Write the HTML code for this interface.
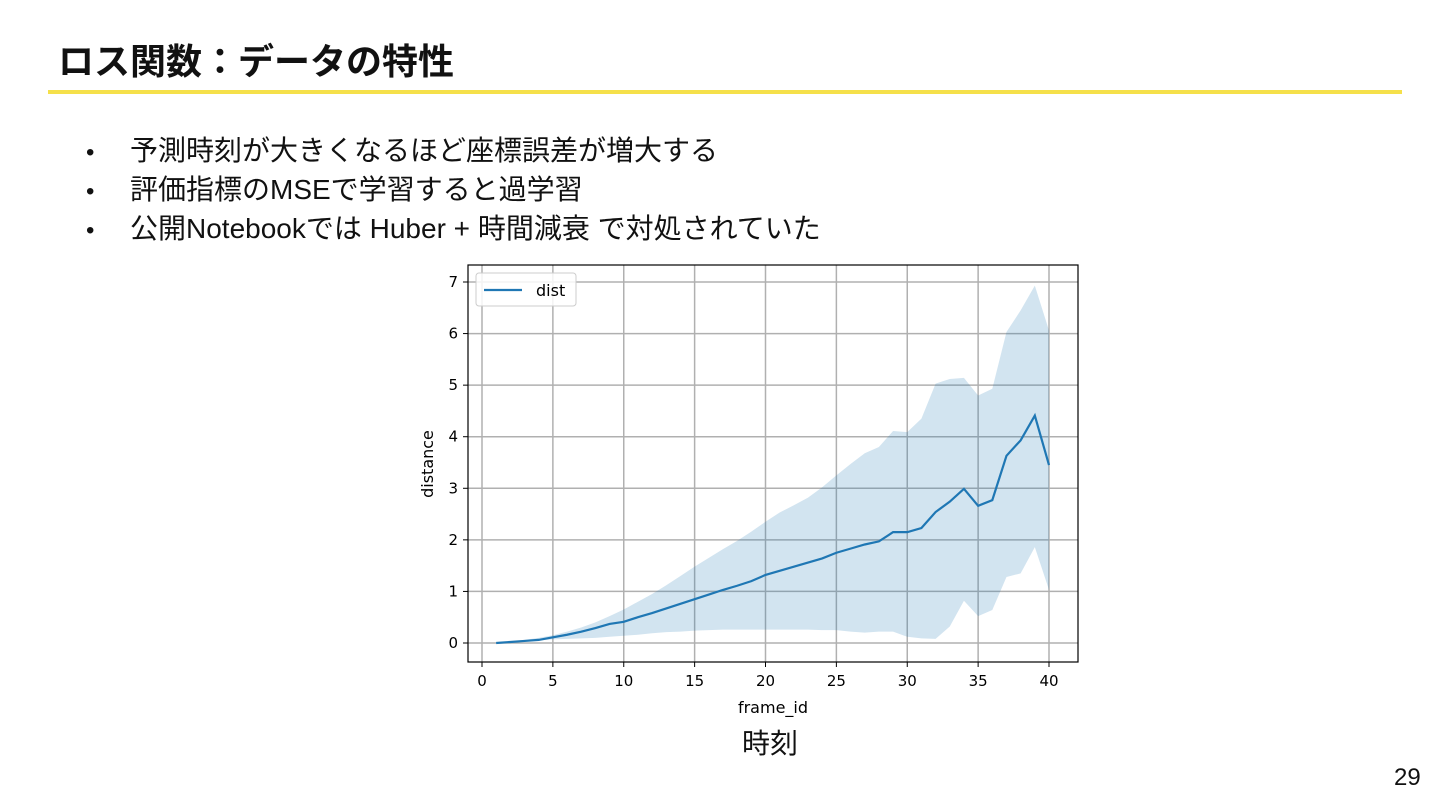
<!DOCTYPE html>
<html><head><meta charset="utf-8">
<style>
body{margin:0;width:1440px;height:810px;background:#fff;overflow:hidden;position:relative;font-family:"Liberation Sans","Noto Sans CJK JP",sans-serif;}
.title{position:absolute;left:58px;top:40px;font-size:36px;font-weight:bold;color:#111;line-height:44px;}
.rule{position:absolute;left:48px;top:90px;width:1354px;height:4px;background:#f5e04a;}
ul{position:absolute;left:86px;top:131px;margin:0;padding:0;list-style:none;font-size:28px;color:#111;}
li{height:39px;line-height:39px;}
li span.b{display:inline-block;width:44px;font-size:24px;}
.pg{position:absolute;left:1394px;top:764px;font-size:24px;color:#111;}
.cap{position:absolute;left:742px;top:722px;font-size:28px;color:#111;}
svg{position:absolute;left:0;top:0;}
</style></head><body>
<div class="title">ロス関数：データの特性</div>
<div class="rule"></div>
<ul>
<li><span class="b">•</span>予測時刻が大きくなるほど座標誤差が増大する</li>
<li><span class="b">•</span>評価指標のMSEで学習すると過学習</li>
<li><span class="b">•</span>公開Notebookでは Huber + 時間減衰 で対処されていた</li>
</ul>
<svg width="1440" height="810" id="chart"></svg>
<div class="cap">時刻</div>
<div class="pg">29</div>
<script>
const frames=[1,2,3,4,5,6,7,8,9,10,11,12,13,14,15,16,17,18,19,20,21,22,23,24,25,26,27,28,29,30,31,32,33,34,35,36,37,38,39,40];
const meanVals=[0,0.02,0.04,0.06,0.11,0.16,0.22,0.29,0.37,0.41,0.5,0.58,0.67,0.76,0.85,0.94,1.03,1.11,1.2,1.32,1.4,1.48,1.56,1.64,1.75,1.83,1.91,1.97,2.15,2.15,2.23,2.54,2.74,2.99,2.66,2.77,3.63,3.93,4.41,3.45];
const upperVals=[0,0.03,0.06,0.1,0.15,0.22,0.3,0.4,0.52,0.65,0.8,0.95,1.12,1.3,1.48,1.65,1.82,1.98,2.16,2.35,2.53,2.67,2.82,3.02,3.25,3.47,3.68,3.8,4.11,4.09,4.35,5.03,5.12,5.14,4.8,4.93,6.03,6.45,6.93,6.06];
const lowerVals=[0,0.01,0.03,0.05,0.07,0.08,0.09,0.1,0.12,0.14,0.16,0.19,0.21,0.22,0.24,0.25,0.26,0.26,0.26,0.26,0.26,0.26,0.26,0.25,0.25,0.22,0.2,0.22,0.22,0.12,0.09,0.08,0.32,0.82,0.52,0.64,1.28,1.35,1.86,1.03];
const xTicks=[0,5,10,15,20,25,30,35,40];
const yTicks=[0,1,2,3,4,5,6,7];
const L=468,R=1078,T=265,B=662;
const sx=v=>482+v*(1049-482)/40;
const sy=v=>643-v*(643-282)/7;
const svg=document.getElementById('chart');
const NS='http://www.w3.org/2000/svg';
function mk(tag,attrs){const e=document.createElementNS(NS,tag);for(const k in attrs)e.setAttribute(k,attrs[k]);svg.appendChild(e);return e;}
xTicks.forEach(t=>{
 const g=mk('line',{x1:sx(t),x2:sx(t),y1:T,y2:B,stroke:'#b0b0b0','stroke-width':1.5});
 
 
 mk('line',{x1:sx(t),x2:sx(t),y1:B,y2:B+5,stroke:'#000'});
 const tx=mk('text',{x:sx(t),y:B+24,'text-anchor':'middle','font-size':15,fill:'#000','font-family':'DejaVu Sans, sans-serif'});
 tx.textContent=t;
 
 
});
yTicks.forEach(t=>{
 const g=mk('line',{x1:L,x2:R,y1:sy(t),y2:sy(t),stroke:'#b0b0b0','stroke-width':1.5});
 
 
 mk('line',{x1:L-5,x2:L,y1:sy(t),y2:sy(t),stroke:'#000'});
 const tx=mk('text',{x:L-10,y:sy(t)+5,'text-anchor':'end','font-size':15,fill:'#000','font-family':'DejaVu Sans, sans-serif'});
 tx.textContent=t;
 
 
});
let d='';
frames.forEach((f,i)=>{d+=(i?'L':'M')+sx(f)+','+sy(upperVals[i]);});
for(let i=frames.length-1;i>=0;i--)d+='L'+sx(frames[i])+','+sy(lowerVals[i]);
const band=mk('path',{d:d+'Z',fill:'#1f77b4','fill-opacity':0.2,stroke:'none'});


const pts=frames.map((f,i)=>sx(f)+','+sy(meanVals[i])).join(' ');
const line=mk('polyline',{points:pts,fill:'none',stroke:'#1f77b4','stroke-width':2.2});


const fr=mk('rect',{x:L,y:T,width:R-L,height:B-T,fill:'none',stroke:'#000','stroke-width':1.2});


const lg=mk('rect',{x:476,y:273,width:100,height:33,rx:3,fill:'#fff','fill-opacity':0.85,stroke:'#ccc'});


mk('line',{x1:484,x2:522,y1:290,y2:290,stroke:'#1f77b4','stroke-width':2.2});
const lt=mk('text',{x:536,y:296,'font-size':16,fill:'#000','font-family':'DejaVu Sans, sans-serif'});
lt.textContent='dist';


const xl=mk('text',{x:773,y:713,'text-anchor':'middle','font-size':16,fill:'#000','font-family':'DejaVu Sans, sans-serif'});
xl.textContent='frame_id';


const yl=mk('text',{x:0,y:0,'text-anchor':'middle','font-size':16,fill:'#000','font-family':'DejaVu Sans, sans-serif',transform:'translate(433,464) rotate(-90)'});
yl.textContent='distance';


</script>
</body></html>
